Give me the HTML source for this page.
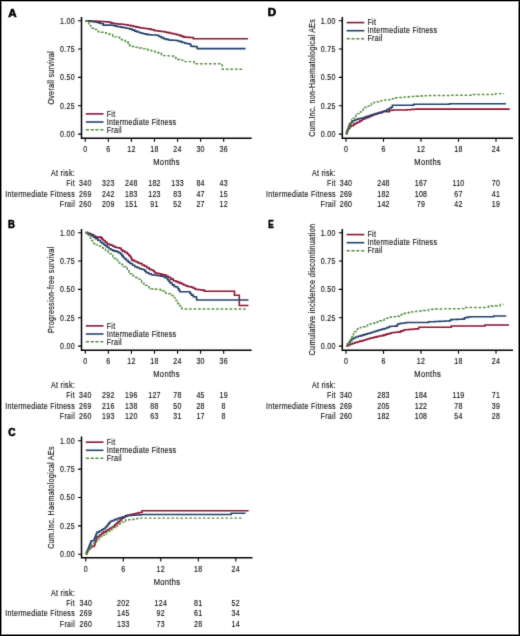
<!DOCTYPE html>
<html><head><meta charset="utf-8"><title>Figure</title>
<style>
html,body{margin:0;padding:0;background:#fff;}
#fig{position:relative;width:520px;height:636px;overflow:hidden;background:#fff;}
#frame{position:absolute;left:0;top:0;width:520px;height:636px;border:1px solid #000;box-sizing:border-box;}
#frame2{position:absolute;left:1px;top:1px;width:518px;height:634px;border-left:1px solid #8a8a8a;border-top:1px solid #a8a8a8;border-right:1px solid #808080;border-bottom:1px solid #808080;box-sizing:border-box;}
svg{position:absolute;left:0;top:0;will-change:transform;}
svg text{font-family:"Liberation Sans",sans-serif;fill:#111;stroke:#222;stroke-width:0.15px;letter-spacing:0.38px;}
</style></head><body>
<div id="fig">
<svg width="520" height="636" viewBox="0 0 520 636">
<defs><filter id="bl" x="0" y="0" width="520" height="636" filterUnits="userSpaceOnUse"><feConvolveMatrix order="3" kernelMatrix="0.0113 0.0838 0.0113 0.0838 0.6193 0.0838 0.0113 0.0838 0.0113" edgeMode="duplicate" preserveAlpha="false"/></filter></defs>
<g filter="url(#bl)">
<text transform="translate(8.20,16.50) scale(1.060,1)" font-size="10.9" font-weight="bold" style="fill:#000;stroke:#000;stroke-width:0.6px;letter-spacing:0">A</text>
<text transform="translate(53.80,77.80) rotate(-90) scale(0.810,1)" text-anchor="middle" font-size="8.80">Overall survival</text>
<path d="M81.50,16.90 V138.20 H251.70" fill="none" stroke="#000" stroke-width="1.5"/>
<text transform="translate(74.90,136.90) scale(0.800,1)" text-anchor="end" font-size="8.80">0.00</text>
<text transform="translate(74.90,108.55) scale(0.800,1)" text-anchor="end" font-size="8.80">0.25</text>
<text transform="translate(74.90,80.20) scale(0.800,1)" text-anchor="end" font-size="8.80">0.50</text>
<text transform="translate(74.90,51.85) scale(0.800,1)" text-anchor="end" font-size="8.80">0.75</text>
<text transform="translate(74.90,23.50) scale(0.800,1)" text-anchor="end" font-size="8.80">1.00</text>
<text transform="translate(85.30,151.90) scale(0.800,1)" text-anchor="middle" font-size="8.80">0</text>
<text transform="translate(108.36,151.90) scale(0.800,1)" text-anchor="middle" font-size="8.80">6</text>
<text transform="translate(131.43,151.90) scale(0.800,1)" text-anchor="middle" font-size="8.80">12</text>
<text transform="translate(154.49,151.90) scale(0.800,1)" text-anchor="middle" font-size="8.80">18</text>
<text transform="translate(177.56,151.90) scale(0.800,1)" text-anchor="middle" font-size="8.80">24</text>
<text transform="translate(200.62,151.90) scale(0.800,1)" text-anchor="middle" font-size="8.80">30</text>
<text transform="translate(223.68,151.90) scale(0.800,1)" text-anchor="middle" font-size="8.80">36</text>
<path d="M81.50,134.10 H78.00 M81.50,105.75 H78.00 M81.50,77.40 H78.00 M81.50,49.05 H78.00 M81.50,20.70 H78.00 M85.30,138.20 V141.80 M108.36,138.20 V141.80 M131.43,138.20 V141.80 M154.49,138.20 V141.80 M177.56,138.20 V141.80 M200.62,138.20 V141.80 M223.68,138.20 V141.80 " fill="none" stroke="#000" stroke-width="1.1"/>
<text transform="translate(166.60,164.90) scale(0.800,1)" text-anchor="middle" font-size="9.50">Months</text>
<text transform="translate(75.00,176.00) scale(0.800,1)" text-anchor="end" font-size="8.80">At risk:</text>
<text transform="translate(75.00,186.30) scale(0.800,1)" text-anchor="end" font-size="8.80">Fit</text>
<text transform="translate(85.30,186.30) scale(0.800,1)" text-anchor="middle" font-size="8.80">340</text>
<text transform="translate(108.36,186.30) scale(0.800,1)" text-anchor="middle" font-size="8.80">323</text>
<text transform="translate(131.43,186.30) scale(0.800,1)" text-anchor="middle" font-size="8.80">248</text>
<text transform="translate(154.49,186.30) scale(0.800,1)" text-anchor="middle" font-size="8.80">182</text>
<text transform="translate(177.56,186.30) scale(0.800,1)" text-anchor="middle" font-size="8.80">133</text>
<text transform="translate(200.62,186.30) scale(0.800,1)" text-anchor="middle" font-size="8.80">84</text>
<text transform="translate(223.68,186.30) scale(0.800,1)" text-anchor="middle" font-size="8.80">43</text>
<text transform="translate(75.00,196.70) scale(0.800,1)" text-anchor="end" font-size="8.80">Intermediate Fitness</text>
<text transform="translate(85.30,196.70) scale(0.800,1)" text-anchor="middle" font-size="8.80">269</text>
<text transform="translate(108.36,196.70) scale(0.800,1)" text-anchor="middle" font-size="8.80">242</text>
<text transform="translate(131.43,196.70) scale(0.800,1)" text-anchor="middle" font-size="8.80">183</text>
<text transform="translate(154.49,196.70) scale(0.800,1)" text-anchor="middle" font-size="8.80">123</text>
<text transform="translate(177.56,196.70) scale(0.800,1)" text-anchor="middle" font-size="8.80">83</text>
<text transform="translate(200.62,196.70) scale(0.800,1)" text-anchor="middle" font-size="8.80">47</text>
<text transform="translate(223.68,196.70) scale(0.800,1)" text-anchor="middle" font-size="8.80">15</text>
<text transform="translate(75.00,207.10) scale(0.800,1)" text-anchor="end" font-size="8.80">Frail</text>
<text transform="translate(85.30,207.10) scale(0.800,1)" text-anchor="middle" font-size="8.80">260</text>
<text transform="translate(108.36,207.10) scale(0.800,1)" text-anchor="middle" font-size="8.80">209</text>
<text transform="translate(131.43,207.10) scale(0.800,1)" text-anchor="middle" font-size="8.80">151</text>
<text transform="translate(154.49,207.10) scale(0.800,1)" text-anchor="middle" font-size="8.80">91</text>
<text transform="translate(177.56,207.10) scale(0.800,1)" text-anchor="middle" font-size="8.80">52</text>
<text transform="translate(200.62,207.10) scale(0.800,1)" text-anchor="middle" font-size="8.80">27</text>
<text transform="translate(223.68,207.10) scale(0.800,1)" text-anchor="middle" font-size="8.80">12</text>
<path d="M85.80,113.90 H103.50" stroke="#8a1533" stroke-width="1.6"/>
<text transform="translate(106.70,116.60) scale(0.800,1)" text-anchor="start" font-size="8.80">Fit</text>
<path d="M85.80,122.00 H103.50" stroke="#26416a" stroke-width="1.6"/>
<text transform="translate(106.70,124.70) scale(0.800,1)" text-anchor="start" font-size="8.80">Intermediate Fitness</text>
<path d="M85.80,129.80 H103.50" stroke="#568f40" stroke-width="1.6" stroke-dasharray="3.2 1.6"/>
<text transform="translate(106.70,132.50) scale(0.800,1)" text-anchor="start" font-size="8.80">Frail</text>
<path d="M85.40,20.80 H87.57 V20.88 H89.73 V20.97 H91.90 V21.05 H94.07 V21.13 H96.23 V21.22 H98.40 V21.30 H100.32 V21.44 H102.24 V21.58 H104.16 V21.72 H106.08 V21.86 H108.00 V22.00 H109.95 V22.60 H111.90 V23.20 H113.83 V23.43 H115.77 V23.67 H117.70 V23.90 H119.60 V24.10 H121.50 V24.30 H123.40 V24.50 H125.30 V24.70 H127.65 V25.15 H130.00 V25.60 H131.92 V26.02 H133.84 V26.44 H135.76 V26.86 H137.68 V27.28 H139.60 V27.70 H141.52 V27.98 H143.44 V28.26 H145.36 V28.54 H147.28 V28.82 H149.20 V29.10 H151.60 V29.75 H154.00 V30.40 H155.94 V30.66 H157.88 V30.92 H159.82 V31.18 H161.76 V31.44 H163.70 V31.70 H165.60 V32.15 H167.50 V32.60 H169.40 V33.05 H171.30 V33.50 H173.65 V34.00 H176.00 V34.50 H177.90 V35.05 H179.80 V35.60 H181.75 V36.35 H183.70 V37.10 H185.93 V37.23 H188.17 V37.37 H190.40 V37.50 H193.30 V38.70 H248.00" fill="none" stroke="#8a1533" stroke-width="1.55" stroke-linejoin="miter"/>
<path d="M85.40,20.80 H87.25 V21.03 H89.10 V21.27 H90.95 V21.50 H92.80 V21.73 H94.65 V21.97 H96.50 V22.20 H98.40 V22.85 H100.30 V23.50 H103.20 V25.10 H111.90 V25.30 H114.30 V25.85 H116.70 V26.40 H118.63 V26.77 H120.57 V27.13 H122.50 V27.50 H124.40 V27.83 H126.30 V28.17 H128.20 V28.50 H130.00 V29.10 H132.40 V30.10 H134.80 V31.10 H137.20 V31.90 H139.60 V32.70 H141.53 V33.18 H143.45 V33.65 H145.38 V34.12 H147.30 V34.60 H149.48 V34.75 H151.65 V34.90 H153.82 V35.05 H156.00 V35.20 H158.80 V36.50 H161.25 V37.62 H163.70 V38.75 H166.10 V39.38 H168.50 V40.00 H170.38 V40.10 H172.25 V40.20 H174.12 V40.30 H176.00 V40.40 H177.90 V41.00 H179.80 V41.60 H182.25 V42.45 H184.70 V43.30 H187.10 V43.80 H189.50 V44.30 H190.90 V46.20 H192.67 V46.37 H194.43 V46.53 H196.20 V46.70 H197.20 V48.60 H245.50" fill="none" stroke="#26416a" stroke-width="1.55" stroke-linejoin="miter"/>
<path d="M85.40,20.80 H87.10 V22.25 H88.80 V23.70 H89.75 V25.40 H90.70 V27.10 H92.15 V28.30 H93.60 V29.50 H96.50 V31.40 H98.90 V31.80 H101.30 V32.20 H103.70 V32.75 H106.10 V33.30 H108.05 V34.02 H110.00 V34.75 H112.80 V36.40 H114.75 V36.85 H116.70 V37.30 H119.60 V39.10 H121.50 V39.80 H123.40 V40.50 H125.35 V41.25 H127.30 V42.00 H128.25 V43.40 H129.20 V44.80 H130.00 V46.00 H131.92 V46.38 H133.84 V46.76 H135.76 V47.14 H137.68 V47.52 H139.60 V47.90 H141.53 V48.38 H143.45 V48.85 H145.38 V49.32 H147.30 V49.80 H149.23 V50.28 H151.17 V50.77 H153.10 V51.25 H155.00 V51.90 H156.90 V52.55 H158.80 V53.20 H161.25 V54.40 H163.70 V55.60 H165.93 V55.73 H168.17 V55.87 H170.40 V56.00 H173.30 V57.50 H176.00 V58.70 H177.90 V59.40 H179.80 V60.10 H182.70 V61.60 H193.30 H194.25 V62.65 H195.20 V63.70 H222.20 V69.30 H244.00" fill="none" stroke="#568f40" stroke-width="1.45" stroke-linejoin="miter" stroke-dasharray="2.6 1.9"/>
<text transform="translate(8.00,228.00) scale(0.870,1)" font-size="10.9" font-weight="bold" style="fill:#000;stroke:#000;stroke-width:0.6px;letter-spacing:0">B</text>
<text transform="translate(53.80,289.80) rotate(-90) scale(0.810,1)" text-anchor="middle" font-size="8.80">Progression-free survival</text>
<path d="M81.50,228.90 V350.20 H251.70" fill="none" stroke="#000" stroke-width="1.5"/>
<text transform="translate(74.90,348.90) scale(0.800,1)" text-anchor="end" font-size="8.80">0.00</text>
<text transform="translate(74.90,320.55) scale(0.800,1)" text-anchor="end" font-size="8.80">0.25</text>
<text transform="translate(74.90,292.20) scale(0.800,1)" text-anchor="end" font-size="8.80">0.50</text>
<text transform="translate(74.90,263.85) scale(0.800,1)" text-anchor="end" font-size="8.80">0.75</text>
<text transform="translate(74.90,235.50) scale(0.800,1)" text-anchor="end" font-size="8.80">1.00</text>
<text transform="translate(85.30,363.90) scale(0.800,1)" text-anchor="middle" font-size="8.80">0</text>
<text transform="translate(108.36,363.90) scale(0.800,1)" text-anchor="middle" font-size="8.80">6</text>
<text transform="translate(131.43,363.90) scale(0.800,1)" text-anchor="middle" font-size="8.80">12</text>
<text transform="translate(154.49,363.90) scale(0.800,1)" text-anchor="middle" font-size="8.80">18</text>
<text transform="translate(177.56,363.90) scale(0.800,1)" text-anchor="middle" font-size="8.80">24</text>
<text transform="translate(200.62,363.90) scale(0.800,1)" text-anchor="middle" font-size="8.80">30</text>
<text transform="translate(223.68,363.90) scale(0.800,1)" text-anchor="middle" font-size="8.80">36</text>
<path d="M81.50,346.10 H78.00 M81.50,317.75 H78.00 M81.50,289.40 H78.00 M81.50,261.05 H78.00 M81.50,232.70 H78.00 M85.30,350.20 V353.80 M108.36,350.20 V353.80 M131.43,350.20 V353.80 M154.49,350.20 V353.80 M177.56,350.20 V353.80 M200.62,350.20 V353.80 M223.68,350.20 V353.80 " fill="none" stroke="#000" stroke-width="1.1"/>
<text transform="translate(166.60,376.90) scale(0.800,1)" text-anchor="middle" font-size="9.50">Months</text>
<text transform="translate(75.00,388.00) scale(0.800,1)" text-anchor="end" font-size="8.80">At risk:</text>
<text transform="translate(75.00,398.30) scale(0.800,1)" text-anchor="end" font-size="8.80">Fit</text>
<text transform="translate(85.30,398.30) scale(0.800,1)" text-anchor="middle" font-size="8.80">340</text>
<text transform="translate(108.36,398.30) scale(0.800,1)" text-anchor="middle" font-size="8.80">292</text>
<text transform="translate(131.43,398.30) scale(0.800,1)" text-anchor="middle" font-size="8.80">196</text>
<text transform="translate(154.49,398.30) scale(0.800,1)" text-anchor="middle" font-size="8.80">127</text>
<text transform="translate(177.56,398.30) scale(0.800,1)" text-anchor="middle" font-size="8.80">78</text>
<text transform="translate(200.62,398.30) scale(0.800,1)" text-anchor="middle" font-size="8.80">45</text>
<text transform="translate(223.68,398.30) scale(0.800,1)" text-anchor="middle" font-size="8.80">19</text>
<text transform="translate(75.00,408.70) scale(0.800,1)" text-anchor="end" font-size="8.80">Intermediate Fitness</text>
<text transform="translate(85.30,408.70) scale(0.800,1)" text-anchor="middle" font-size="8.80">269</text>
<text transform="translate(108.36,408.70) scale(0.800,1)" text-anchor="middle" font-size="8.80">216</text>
<text transform="translate(131.43,408.70) scale(0.800,1)" text-anchor="middle" font-size="8.80">138</text>
<text transform="translate(154.49,408.70) scale(0.800,1)" text-anchor="middle" font-size="8.80">88</text>
<text transform="translate(177.56,408.70) scale(0.800,1)" text-anchor="middle" font-size="8.80">50</text>
<text transform="translate(200.62,408.70) scale(0.800,1)" text-anchor="middle" font-size="8.80">28</text>
<text transform="translate(223.68,408.70) scale(0.800,1)" text-anchor="middle" font-size="8.80">8</text>
<text transform="translate(75.00,419.10) scale(0.800,1)" text-anchor="end" font-size="8.80">Frail</text>
<text transform="translate(85.30,419.10) scale(0.800,1)" text-anchor="middle" font-size="8.80">260</text>
<text transform="translate(108.36,419.10) scale(0.800,1)" text-anchor="middle" font-size="8.80">193</text>
<text transform="translate(131.43,419.10) scale(0.800,1)" text-anchor="middle" font-size="8.80">120</text>
<text transform="translate(154.49,419.10) scale(0.800,1)" text-anchor="middle" font-size="8.80">63</text>
<text transform="translate(177.56,419.10) scale(0.800,1)" text-anchor="middle" font-size="8.80">31</text>
<text transform="translate(200.62,419.10) scale(0.800,1)" text-anchor="middle" font-size="8.80">17</text>
<text transform="translate(223.68,419.10) scale(0.800,1)" text-anchor="middle" font-size="8.80">8</text>
<path d="M85.80,325.90 H103.50" stroke="#8a1533" stroke-width="1.6"/>
<text transform="translate(106.70,328.60) scale(0.800,1)" text-anchor="start" font-size="8.80">Fit</text>
<path d="M85.80,334.00 H103.50" stroke="#26416a" stroke-width="1.6"/>
<text transform="translate(106.70,336.70) scale(0.800,1)" text-anchor="start" font-size="8.80">Intermediate Fitness</text>
<path d="M85.80,341.80 H103.50" stroke="#568f40" stroke-width="1.6" stroke-dasharray="3.2 1.6"/>
<text transform="translate(106.70,344.50) scale(0.800,1)" text-anchor="start" font-size="8.80">Frail</text>
<path d="M85.40,232.60 H87.50 V233.30 H89.60 V234.00 H91.70 V234.70 H93.60 V235.90 H95.50 V237.10 H98.40 H101.30 V238.10 H102.25 V239.30 H103.20 V240.50 H105.15 V242.20 H107.10 V243.90 H109.00 V244.60 H110.90 V245.30 H112.85 V246.25 H114.80 V247.20 H117.20 V247.70 H119.60 V248.20 H121.05 V249.65 H122.50 V251.10 H124.90 V252.55 H127.30 V254.00 H128.75 V255.40 H130.20 V256.80 H131.05 V258.45 H131.90 V260.10 H133.82 V260.95 H135.75 V261.80 H137.68 V262.65 H139.60 V263.50 H142.00 V264.90 H144.40 V266.30 H146.80 V267.75 H149.20 V269.20 H151.15 V269.95 H153.10 V270.70 H154.05 V271.80 H155.00 V272.90 H156.90 V273.35 H158.80 V273.80 H160.73 V274.27 H162.67 V274.73 H164.60 V275.20 H166.55 V276.30 H168.50 V277.40 H170.90 V279.10 H173.30 V280.80 H176.00 V281.60 H177.90 V282.35 H179.80 V283.10 H181.75 V284.05 H183.70 V285.00 H185.60 V285.70 H187.50 V286.40 H189.45 V286.80 H191.40 V287.20 H193.30 V288.25 H195.20 V289.30 H197.12 V289.50 H199.05 V289.70 H200.97 V289.90 H202.90 V290.10 H204.40 V291.20 H234.50 V295.20 H239.30 V305.50 H248.50" fill="none" stroke="#8a1533" stroke-width="1.55" stroke-linejoin="miter"/>
<path d="M85.40,232.60 H87.50 V233.63 H89.60 V234.67 H91.70 V235.70 H93.60 V237.15 H95.50 V238.60 H97.90 V240.25 H100.30 V241.90 H101.93 V243.20 H103.57 V244.50 H105.20 V245.80 H107.10 V247.25 H109.00 V248.70 H110.90 V249.65 H112.80 V250.60 H114.75 V251.10 H116.70 V251.60 H118.60 V252.80 H120.50 V254.00 H121.80 V255.60 H123.10 V257.20 H124.40 V258.80 H126.30 V260.45 H128.20 V262.10 H130.00 V263.50 H132.40 V265.15 H134.80 V266.80 H137.20 V267.77 H139.60 V268.75 H141.55 V269.23 H143.50 V269.70 H144.90 V271.15 H146.30 V272.60 H148.75 V273.70 H151.20 V274.80 H153.10 V275.03 H155.00 V275.27 H156.90 V275.50 H158.83 V275.80 H160.77 V276.10 H162.70 V276.40 H164.60 V277.40 H166.50 V278.40 H167.80 V280.00 H169.10 V281.60 H170.40 V283.20 H172.30 V284.85 H174.20 V286.50 H176.00 V286.90 H177.90 V288.80 H178.85 V290.25 H179.80 V291.70 H188.50 H189.95 V293.40 H191.40 V295.10 H193.30 V296.80 H196.20 V297.00 H196.45 V298.45 H196.70 V299.90 H248.50" fill="none" stroke="#26416a" stroke-width="1.55" stroke-linejoin="miter"/>
<path d="M85.40,232.60 H86.87 V233.97 H88.33 V235.33 H89.80 V236.70 H90.43 V237.97 H91.07 V239.23 H91.70 V240.50 H92.65 V241.95 H93.60 V243.40 H96.00 V244.85 H98.40 V246.30 H100.80 V247.75 H103.20 V249.20 H105.60 V250.60 H108.00 V252.00 H109.60 V253.60 H111.20 V255.20 H112.80 V256.80 H114.43 V258.43 H116.07 V260.07 H117.70 V261.70 H119.30 V262.97 H120.90 V264.23 H122.50 V265.50 H124.10 V266.77 H125.70 V268.03 H127.30 V269.30 H128.20 V270.73 H129.10 V272.17 H130.00 V273.60 H131.60 V274.87 H133.20 V276.13 H134.80 V277.40 H137.20 V278.85 H139.60 V280.30 H141.55 V282.00 H143.50 V283.70 H145.40 V285.35 H147.30 V287.00 H149.25 V287.95 H151.20 V288.90 H153.10 V289.02 H155.00 V289.15 H156.90 V289.27 H158.80 V289.40 H160.75 V290.15 H162.70 V290.90 H164.15 V292.10 H165.60 V293.30 H168.00 V293.75 H170.40 V294.20 H171.85 V295.40 H173.30 V296.60 H174.20 V297.87 H175.10 V299.13 H176.00 V300.40 H176.95 V302.05 H177.90 V303.70 H178.85 V304.90 H179.80 V306.10 H180.80 V307.50 H181.80 V308.90 H245.60" fill="none" stroke="#568f40" stroke-width="1.45" stroke-linejoin="miter" stroke-dasharray="2.6 1.9"/>
<text transform="translate(8.20,436.00) scale(0.925,1)" font-size="10.9" font-weight="bold" style="fill:#000;stroke:#000;stroke-width:0.6px;letter-spacing:0">C</text>
<text transform="translate(53.80,497.40) rotate(-90) scale(0.810,1)" text-anchor="middle" font-size="8.80">Cum.Inc. Haematological AEs</text>
<path d="M81.50,436.50 V557.80 H252.50" fill="none" stroke="#000" stroke-width="1.5"/>
<text transform="translate(74.90,557.00) scale(0.800,1)" text-anchor="end" font-size="8.80">0.00</text>
<text transform="translate(74.90,528.65) scale(0.800,1)" text-anchor="end" font-size="8.80">0.25</text>
<text transform="translate(74.90,500.30) scale(0.800,1)" text-anchor="end" font-size="8.80">0.50</text>
<text transform="translate(74.90,471.95) scale(0.800,1)" text-anchor="end" font-size="8.80">0.75</text>
<text transform="translate(74.90,443.60) scale(0.800,1)" text-anchor="end" font-size="8.80">1.00</text>
<text transform="translate(85.80,571.50) scale(0.800,1)" text-anchor="middle" font-size="8.80">0</text>
<text transform="translate(123.30,571.50) scale(0.800,1)" text-anchor="middle" font-size="8.80">6</text>
<text transform="translate(160.80,571.50) scale(0.800,1)" text-anchor="middle" font-size="8.80">12</text>
<text transform="translate(198.30,571.50) scale(0.800,1)" text-anchor="middle" font-size="8.80">18</text>
<text transform="translate(235.80,571.50) scale(0.800,1)" text-anchor="middle" font-size="8.80">24</text>
<path d="M81.50,554.20 H78.00 M81.50,525.85 H78.00 M81.50,497.50 H78.00 M81.50,469.15 H78.00 M81.50,440.80 H78.00 M85.80,557.80 V561.40 M123.30,557.80 V561.40 M160.80,557.80 V561.40 M198.30,557.80 V561.40 M235.80,557.80 V561.40 " fill="none" stroke="#000" stroke-width="1.1"/>
<text transform="translate(167.00,584.50) scale(0.800,1)" text-anchor="middle" font-size="9.50">Months</text>
<text transform="translate(75.00,595.60) scale(0.800,1)" text-anchor="end" font-size="8.80">At risk:</text>
<text transform="translate(75.00,605.90) scale(0.800,1)" text-anchor="end" font-size="8.80">Fit</text>
<text transform="translate(85.80,605.90) scale(0.800,1)" text-anchor="middle" font-size="8.80">340</text>
<text transform="translate(123.30,605.90) scale(0.800,1)" text-anchor="middle" font-size="8.80">202</text>
<text transform="translate(160.80,605.90) scale(0.800,1)" text-anchor="middle" font-size="8.80">124</text>
<text transform="translate(198.30,605.90) scale(0.800,1)" text-anchor="middle" font-size="8.80">81</text>
<text transform="translate(235.80,605.90) scale(0.800,1)" text-anchor="middle" font-size="8.80">52</text>
<text transform="translate(75.00,616.30) scale(0.800,1)" text-anchor="end" font-size="8.80">Intermediate Fitness</text>
<text transform="translate(85.80,616.30) scale(0.800,1)" text-anchor="middle" font-size="8.80">269</text>
<text transform="translate(123.30,616.30) scale(0.800,1)" text-anchor="middle" font-size="8.80">145</text>
<text transform="translate(160.80,616.30) scale(0.800,1)" text-anchor="middle" font-size="8.80">92</text>
<text transform="translate(198.30,616.30) scale(0.800,1)" text-anchor="middle" font-size="8.80">61</text>
<text transform="translate(235.80,616.30) scale(0.800,1)" text-anchor="middle" font-size="8.80">34</text>
<text transform="translate(75.00,626.70) scale(0.800,1)" text-anchor="end" font-size="8.80">Frail</text>
<text transform="translate(85.80,626.70) scale(0.800,1)" text-anchor="middle" font-size="8.80">260</text>
<text transform="translate(123.30,626.70) scale(0.800,1)" text-anchor="middle" font-size="8.80">133</text>
<text transform="translate(160.80,626.70) scale(0.800,1)" text-anchor="middle" font-size="8.80">73</text>
<text transform="translate(198.30,626.70) scale(0.800,1)" text-anchor="middle" font-size="8.80">28</text>
<text transform="translate(235.80,626.70) scale(0.800,1)" text-anchor="middle" font-size="8.80">14</text>
<path d="M85.80,442.20 H103.50" stroke="#8a1533" stroke-width="1.6"/>
<text transform="translate(106.70,444.90) scale(0.800,1)" text-anchor="start" font-size="8.80">Fit</text>
<path d="M85.80,450.30 H103.50" stroke="#26416a" stroke-width="1.6"/>
<text transform="translate(106.70,453.00) scale(0.800,1)" text-anchor="start" font-size="8.80">Intermediate Fitness</text>
<path d="M85.80,458.30 H103.50" stroke="#568f40" stroke-width="1.6" stroke-dasharray="3.2 1.6"/>
<text transform="translate(106.70,461.00) scale(0.800,1)" text-anchor="start" font-size="8.80">Frail</text>
<path d="M85.80,554.00 H86.58 V552.70 H87.35 V551.40 H88.12 V550.10 H88.90 V548.80 H90.05 V547.65 H91.20 V546.50 H94.10 V545.40 H94.67 V543.87 H95.23 V542.33 H95.80 V540.80 H96.20 V539.43 H96.60 V538.07 H97.00 V536.70 H99.30 V535.00 H101.60 V533.30 H103.53 V532.13 H105.47 V530.97 H107.40 V529.80 H109.33 V528.63 H111.27 V527.47 H113.20 V526.30 H114.80 V524.73 H116.40 V523.17 H118.00 V521.60 H119.90 V519.95 H121.80 V518.30 H123.75 V516.85 H125.70 V515.40 H128.10 V514.90 H130.50 V514.40 H132.90 V513.95 H135.30 V513.50 H137.25 V513.00 H139.20 V512.50 H142.00 V510.80 H248.70" fill="none" stroke="#8a1533" stroke-width="1.55" stroke-linejoin="miter"/>
<path d="M85.80,554.00 H86.42 V552.50 H87.04 V551.00 H87.66 V549.50 H88.28 V548.00 H88.90 V546.50 H89.48 V545.08 H90.05 V543.65 H90.62 V542.22 H91.20 V540.80 H94.10 V539.00 H94.67 V537.67 H95.23 V536.33 H95.80 V535.00 H96.40 V533.55 H97.00 V532.10 H99.30 V530.95 H101.60 V529.80 H103.35 V528.65 H105.10 V527.50 H106.40 V525.92 H107.70 V524.35 H109.00 V522.78 H110.30 V521.20 H112.40 V520.40 H114.50 V519.60 H116.60 V518.80 H118.67 V518.13 H120.73 V517.47 H122.80 V516.80 H125.20 V516.10 H127.60 V515.40 H132.40 V515.20 H134.80 V515.05 H137.20 V514.90 H139.60 V514.65 H142.00 V514.40 H231.20 V513.30 H245.50" fill="none" stroke="#26416a" stroke-width="1.55" stroke-linejoin="miter"/>
<path d="M85.80,554.00 H86.62 V552.64 H87.45 V551.27 H88.28 V549.91 H89.10 V548.55 H89.92 V547.19 H90.75 V545.83 H91.58 V544.46 H92.40 V543.10 H94.70 V541.35 H97.00 V539.60 H98.93 V538.07 H100.87 V536.53 H102.80 V535.00 H104.70 V533.67 H106.60 V532.33 H108.50 V531.00 H110.25 V529.83 H112.00 V528.65 H113.75 V527.47 H115.50 V526.30 H117.60 V524.90 H119.70 V523.50 H121.80 V522.10 H123.75 V520.90 H125.70 V519.70 H129.50 H131.45 V519.45 H133.40 V519.20 H135.33 V518.83 H137.27 V518.47 H139.20 V518.10 H243.00" fill="none" stroke="#568f40" stroke-width="1.45" stroke-linejoin="miter" stroke-dasharray="2.6 1.9"/>
<text transform="translate(267.70,16.40) scale(1.060,1)" font-size="10.9" font-weight="bold" style="fill:#000;stroke:#000;stroke-width:0.6px;letter-spacing:0">D</text>
<text transform="translate(314.60,77.80) rotate(-90) scale(0.810,1)" text-anchor="middle" font-size="8.80">Cum.Inc. non-Haematological AEs</text>
<path d="M342.30,16.90 V138.20 H513.00" fill="none" stroke="#000" stroke-width="1.5"/>
<text transform="translate(335.70,136.90) scale(0.800,1)" text-anchor="end" font-size="8.80">0.00</text>
<text transform="translate(335.70,108.55) scale(0.800,1)" text-anchor="end" font-size="8.80">0.25</text>
<text transform="translate(335.70,80.20) scale(0.800,1)" text-anchor="end" font-size="8.80">0.50</text>
<text transform="translate(335.70,51.85) scale(0.800,1)" text-anchor="end" font-size="8.80">0.75</text>
<text transform="translate(335.70,23.50) scale(0.800,1)" text-anchor="end" font-size="8.80">1.00</text>
<text transform="translate(346.00,151.90) scale(0.800,1)" text-anchor="middle" font-size="8.80">0</text>
<text transform="translate(383.50,151.90) scale(0.800,1)" text-anchor="middle" font-size="8.80">6</text>
<text transform="translate(421.00,151.90) scale(0.800,1)" text-anchor="middle" font-size="8.80">12</text>
<text transform="translate(458.50,151.90) scale(0.800,1)" text-anchor="middle" font-size="8.80">18</text>
<text transform="translate(496.00,151.90) scale(0.800,1)" text-anchor="middle" font-size="8.80">24</text>
<path d="M342.30,134.10 H338.80 M342.30,105.75 H338.80 M342.30,77.40 H338.80 M342.30,49.05 H338.80 M342.30,20.70 H338.80 M346.00,138.20 V141.80 M383.50,138.20 V141.80 M421.00,138.20 V141.80 M458.50,138.20 V141.80 M496.00,138.20 V141.80 " fill="none" stroke="#000" stroke-width="1.1"/>
<text transform="translate(427.65,164.90) scale(0.800,1)" text-anchor="middle" font-size="9.50">Months</text>
<text transform="translate(335.80,176.00) scale(0.800,1)" text-anchor="end" font-size="8.80">At risk:</text>
<text transform="translate(335.80,186.30) scale(0.800,1)" text-anchor="end" font-size="8.80">Fit</text>
<text transform="translate(346.00,186.30) scale(0.800,1)" text-anchor="middle" font-size="8.80">340</text>
<text transform="translate(383.50,186.30) scale(0.800,1)" text-anchor="middle" font-size="8.80">248</text>
<text transform="translate(421.00,186.30) scale(0.800,1)" text-anchor="middle" font-size="8.80">167</text>
<text transform="translate(458.50,186.30) scale(0.800,1)" text-anchor="middle" font-size="8.80">110</text>
<text transform="translate(496.00,186.30) scale(0.800,1)" text-anchor="middle" font-size="8.80">70</text>
<text transform="translate(335.80,196.70) scale(0.800,1)" text-anchor="end" font-size="8.80">Intermediate Fitness</text>
<text transform="translate(346.00,196.70) scale(0.800,1)" text-anchor="middle" font-size="8.80">269</text>
<text transform="translate(383.50,196.70) scale(0.800,1)" text-anchor="middle" font-size="8.80">182</text>
<text transform="translate(421.00,196.70) scale(0.800,1)" text-anchor="middle" font-size="8.80">108</text>
<text transform="translate(458.50,196.70) scale(0.800,1)" text-anchor="middle" font-size="8.80">67</text>
<text transform="translate(496.00,196.70) scale(0.800,1)" text-anchor="middle" font-size="8.80">41</text>
<text transform="translate(335.80,207.10) scale(0.800,1)" text-anchor="end" font-size="8.80">Frail</text>
<text transform="translate(346.00,207.10) scale(0.800,1)" text-anchor="middle" font-size="8.80">260</text>
<text transform="translate(383.50,207.10) scale(0.800,1)" text-anchor="middle" font-size="8.80">142</text>
<text transform="translate(421.00,207.10) scale(0.800,1)" text-anchor="middle" font-size="8.80">79</text>
<text transform="translate(458.50,207.10) scale(0.800,1)" text-anchor="middle" font-size="8.80">42</text>
<text transform="translate(496.00,207.10) scale(0.800,1)" text-anchor="middle" font-size="8.80">19</text>
<path d="M346.60,22.60 H364.30" stroke="#8a1533" stroke-width="1.6"/>
<text transform="translate(367.50,25.30) scale(0.800,1)" text-anchor="start" font-size="8.80">Fit</text>
<path d="M346.60,30.70 H364.30" stroke="#26416a" stroke-width="1.6"/>
<text transform="translate(367.50,33.40) scale(0.800,1)" text-anchor="start" font-size="8.80">Intermediate Fitness</text>
<path d="M346.60,38.70 H364.30" stroke="#568f40" stroke-width="1.6" stroke-dasharray="3.2 1.6"/>
<text transform="translate(367.50,41.40) scale(0.800,1)" text-anchor="start" font-size="8.80">Frail</text>
<path d="M346.00,134.20 H346.60 V132.60 H347.20 V131.00 H347.80 V129.40 H348.77 V128.13 H349.73 V126.87 H350.70 V125.60 H353.60 V124.10 H355.50 V123.15 H357.40 V122.20 H359.80 V120.75 H362.20 V119.30 H364.13 V118.50 H366.07 V117.70 H368.00 V116.90 H369.93 V116.10 H371.87 V115.30 H373.80 V114.50 H375.70 V113.87 H377.60 V113.23 H379.50 V112.60 H381.45 V111.90 H383.40 V111.20 H386.30 V111.60 H389.20 V110.40 H391.10 V110.20 H393.00 V110.00 H406.70 V109.80 H408.60 V109.66 H410.50 V109.52 H412.40 V109.38 H414.30 V109.24 H416.20 V109.10 H509.20 V109.00" fill="none" stroke="#8a1533" stroke-width="1.55" stroke-linejoin="miter"/>
<path d="M346.00,134.20 H346.45 V132.77 H346.90 V131.35 H347.35 V129.93 H347.80 V128.50 H348.43 V126.90 H349.07 V125.30 H349.70 V123.70 H351.15 V122.25 H352.60 V120.80 H354.55 V120.05 H356.50 V119.30 H358.40 V118.83 H360.30 V118.37 H362.20 V117.90 H364.13 V117.27 H366.07 V116.63 H368.00 V116.00 H369.93 V115.33 H371.87 V114.67 H373.80 V114.00 H375.70 V113.53 H377.60 V113.07 H379.50 V112.60 H381.90 V111.65 H384.30 V110.70 H386.75 V109.50 H389.20 V108.30 H391.00 V107.20 H392.40 V105.30 H412.70 V105.10 H413.80 V104.30 H448.40 H449.60 V103.70 H506.00" fill="none" stroke="#26416a" stroke-width="1.55" stroke-linejoin="miter"/>
<path d="M346.00,134.20 H346.60 V132.60 H347.20 V131.00 H347.80 V129.40 H348.43 V127.80 H349.07 V126.20 H349.70 V124.60 H350.37 V123.00 H351.03 V121.40 H351.70 V119.80 H353.10 V118.10 H354.50 V116.40 H355.95 V115.00 H357.40 V113.60 H359.35 V111.90 H361.30 V110.20 H363.20 V108.75 H365.10 V107.30 H367.05 V106.10 H369.00 V104.90 H371.40 V103.70 H373.80 V102.50 H376.20 V101.80 H378.60 V101.10 H381.00 V100.60 H383.40 V100.10 H385.33 V99.93 H387.27 V99.77 H389.20 V99.60 H391.40 V98.75 H393.60 V97.90 H395.68 V97.75 H397.75 V97.60 H399.82 V97.45 H401.90 V97.30 H404.00 V97.10 H406.10 V96.90 H408.20 V96.70 H410.30 V96.50 H412.29 V96.39 H414.28 V96.28 H416.27 V96.17 H418.26 V96.06 H420.24 V95.94 H422.23 V95.83 H424.22 V95.72 H426.21 V95.61 H428.20 V95.50 H450.00 V95.30 H470.90 H472.20 V94.50 H494.30 H495.50 V93.60 H504.20" fill="none" stroke="#568f40" stroke-width="1.45" stroke-linejoin="miter" stroke-dasharray="2.6 1.9"/>
<text transform="translate(268.30,228.10) scale(0.750,1)" font-size="10.9" font-weight="bold" style="fill:#000;stroke:#000;stroke-width:0.6px;letter-spacing:0">E</text>
<text transform="translate(314.60,289.50) rotate(-90) scale(0.834,1)" text-anchor="middle" font-size="8.80">Cumulative incidence discontinuation</text>
<path d="M342.30,228.90 V350.20 H513.00" fill="none" stroke="#000" stroke-width="1.5"/>
<text transform="translate(335.70,348.90) scale(0.800,1)" text-anchor="end" font-size="8.80">0.00</text>
<text transform="translate(335.70,320.55) scale(0.800,1)" text-anchor="end" font-size="8.80">0.25</text>
<text transform="translate(335.70,292.20) scale(0.800,1)" text-anchor="end" font-size="8.80">0.50</text>
<text transform="translate(335.70,263.85) scale(0.800,1)" text-anchor="end" font-size="8.80">0.75</text>
<text transform="translate(335.70,235.50) scale(0.800,1)" text-anchor="end" font-size="8.80">1.00</text>
<text transform="translate(346.00,363.90) scale(0.800,1)" text-anchor="middle" font-size="8.80">0</text>
<text transform="translate(383.50,363.90) scale(0.800,1)" text-anchor="middle" font-size="8.80">6</text>
<text transform="translate(421.00,363.90) scale(0.800,1)" text-anchor="middle" font-size="8.80">12</text>
<text transform="translate(458.50,363.90) scale(0.800,1)" text-anchor="middle" font-size="8.80">18</text>
<text transform="translate(496.00,363.90) scale(0.800,1)" text-anchor="middle" font-size="8.80">24</text>
<path d="M342.30,346.10 H338.80 M342.30,317.75 H338.80 M342.30,289.40 H338.80 M342.30,261.05 H338.80 M342.30,232.70 H338.80 M346.00,350.20 V353.80 M383.50,350.20 V353.80 M421.00,350.20 V353.80 M458.50,350.20 V353.80 M496.00,350.20 V353.80 " fill="none" stroke="#000" stroke-width="1.1"/>
<text transform="translate(427.65,376.90) scale(0.800,1)" text-anchor="middle" font-size="9.50">Months</text>
<text transform="translate(335.80,388.00) scale(0.800,1)" text-anchor="end" font-size="8.80">At risk:</text>
<text transform="translate(335.80,398.30) scale(0.800,1)" text-anchor="end" font-size="8.80">Fit</text>
<text transform="translate(346.00,398.30) scale(0.800,1)" text-anchor="middle" font-size="8.80">340</text>
<text transform="translate(383.50,398.30) scale(0.800,1)" text-anchor="middle" font-size="8.80">283</text>
<text transform="translate(421.00,398.30) scale(0.800,1)" text-anchor="middle" font-size="8.80">184</text>
<text transform="translate(458.50,398.30) scale(0.800,1)" text-anchor="middle" font-size="8.80">119</text>
<text transform="translate(496.00,398.30) scale(0.800,1)" text-anchor="middle" font-size="8.80">71</text>
<text transform="translate(335.80,408.70) scale(0.800,1)" text-anchor="end" font-size="8.80">Intermediate Fitness</text>
<text transform="translate(346.00,408.70) scale(0.800,1)" text-anchor="middle" font-size="8.80">269</text>
<text transform="translate(383.50,408.70) scale(0.800,1)" text-anchor="middle" font-size="8.80">205</text>
<text transform="translate(421.00,408.70) scale(0.800,1)" text-anchor="middle" font-size="8.80">122</text>
<text transform="translate(458.50,408.70) scale(0.800,1)" text-anchor="middle" font-size="8.80">78</text>
<text transform="translate(496.00,408.70) scale(0.800,1)" text-anchor="middle" font-size="8.80">39</text>
<text transform="translate(335.80,419.10) scale(0.800,1)" text-anchor="end" font-size="8.80">Frail</text>
<text transform="translate(346.00,419.10) scale(0.800,1)" text-anchor="middle" font-size="8.80">260</text>
<text transform="translate(383.50,419.10) scale(0.800,1)" text-anchor="middle" font-size="8.80">182</text>
<text transform="translate(421.00,419.10) scale(0.800,1)" text-anchor="middle" font-size="8.80">108</text>
<text transform="translate(458.50,419.10) scale(0.800,1)" text-anchor="middle" font-size="8.80">54</text>
<text transform="translate(496.00,419.10) scale(0.800,1)" text-anchor="middle" font-size="8.80">28</text>
<path d="M346.60,234.60 H364.30" stroke="#8a1533" stroke-width="1.6"/>
<text transform="translate(367.50,237.30) scale(0.800,1)" text-anchor="start" font-size="8.80">Fit</text>
<path d="M346.60,242.70 H364.30" stroke="#26416a" stroke-width="1.6"/>
<text transform="translate(367.50,245.40) scale(0.800,1)" text-anchor="start" font-size="8.80">Intermediate Fitness</text>
<path d="M346.60,250.70 H364.30" stroke="#568f40" stroke-width="1.6" stroke-dasharray="3.2 1.6"/>
<text transform="translate(367.50,253.40) scale(0.800,1)" text-anchor="start" font-size="8.80">Frail</text>
<path d="M346.00,345.80 H348.80 V344.70 H350.70 V344.00 H352.60 V343.30 H355.00 V342.55 H357.40 V341.80 H359.80 V341.10 H362.20 V340.40 H364.60 V339.65 H367.00 V338.90 H369.40 V338.30 H371.80 V337.70 H374.25 V337.10 H376.70 V336.50 H379.10 V336.05 H381.50 V335.60 H383.90 V334.85 H386.30 V334.10 H388.70 V333.40 H391.10 V332.70 H393.30 V332.50 H395.50 V332.30 H397.70 V332.10 H400.60 V331.10 H402.50 V330.45 H404.40 V329.80 H406.32 V329.65 H408.25 V329.50 H410.18 V329.35 H412.10 V329.20 H414.03 V329.03 H415.97 V328.87 H417.90 V328.70 H418.80 V327.30 H450.60 H451.30 V325.90 H484.20 H485.00 V325.00 H509.00" fill="none" stroke="#8a1533" stroke-width="1.55" stroke-linejoin="miter"/>
<path d="M346.00,345.80 H347.40 V344.05 H348.80 V342.30 H350.25 V340.60 H351.70 V338.90 H353.60 V337.95 H355.50 V337.00 H357.90 V336.30 H360.30 V335.60 H362.70 V334.85 H365.10 V334.10 H367.50 V333.40 H369.90 V332.70 H372.30 V332.00 H374.70 V331.30 H377.10 V330.55 H379.50 V329.80 H381.90 V329.10 H384.30 V328.40 H386.75 V327.40 H389.20 V326.40 H391.07 V326.30 H392.95 V326.20 H394.82 V326.10 H396.70 V326.00 H397.20 V324.95 H397.70 V323.90 H399.63 V323.57 H401.57 V323.23 H403.50 V322.90 H406.30 V322.40 H427.50 H428.50 V321.80 H430.65 V321.73 H432.80 V321.65 H434.95 V321.57 H437.10 V321.50 H439.12 V321.38 H441.13 V321.27 H443.15 V321.15 H445.17 V321.03 H447.18 V320.92 H449.20 V320.80 H450.60 V319.60 H452.55 V319.52 H454.50 V319.43 H456.45 V319.35 H458.40 V319.27 H460.35 V319.18 H462.30 V319.10 H464.50 V317.70 H466.43 V317.37 H468.37 V317.03 H470.30 V316.70 H492.30 H493.70 V315.90 H506.20" fill="none" stroke="#26416a" stroke-width="1.55" stroke-linejoin="miter"/>
<path d="M346.00,345.80 H347.40 V344.05 H348.80 V342.30 H349.75 V340.85 H350.70 V339.40 H351.33 V337.97 H351.97 V336.53 H352.60 V335.10 H353.55 V333.40 H354.50 V331.70 H355.95 V330.25 H357.40 V328.80 H360.30 V327.40 H362.70 V326.70 H365.10 V326.00 H367.50 V325.00 H369.90 V324.00 H372.30 V323.30 H374.70 V322.60 H377.10 V321.65 H379.50 V320.70 H381.90 V319.95 H384.30 V319.20 H386.75 V318.25 H389.20 V317.30 H391.32 V317.02 H393.45 V316.75 H395.57 V316.48 H397.70 V316.20 H399.60 V314.80 H402.00 V314.05 H404.40 V313.30 H406.80 V312.80 H409.20 V312.30 H411.60 V311.85 H414.00 V311.40 H416.40 V311.15 H418.80 V310.90 H421.07 V310.73 H423.33 V310.57 H425.60 V310.40 H428.50 V309.50 H430.90 V309.25 H433.30 V309.00 H435.37 V308.97 H437.44 V308.94 H439.51 V308.91 H441.59 V308.89 H443.66 V308.86 H445.73 V308.83 H447.80 V308.80 H449.87 V308.77 H451.94 V308.74 H454.01 V308.71 H456.09 V308.69 H458.16 V308.66 H460.23 V308.63 H462.30 V308.60 H463.80 V307.40 H487.20 V307.20 H488.60 V306.00 H490.80 V305.93 H493.00 V305.85 H495.20 V305.77 H497.40 V305.70 H500.30 V304.50 H503.50" fill="none" stroke="#568f40" stroke-width="1.45" stroke-linejoin="miter" stroke-dasharray="2.6 1.9"/>
</g>
</svg>
<div id="frame"></div><div id="frame2"></div>
</div>
</body></html>
